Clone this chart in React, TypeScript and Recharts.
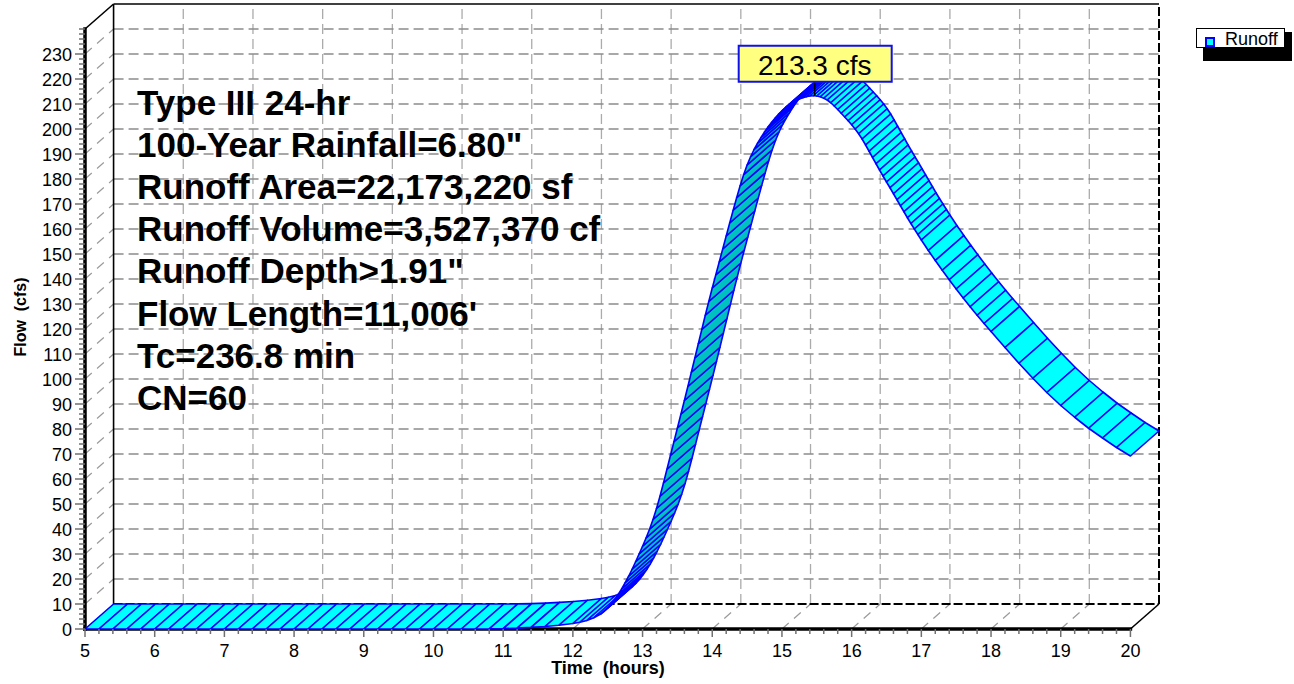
import React from 'react';
import { ScatterChart, Scatter, XAxis, YAxis } from 'recharts';

const FONT = '"Liberation Sans", Arial, Helvetica, sans-serif';

// ---------- data ----------
const HOURS = [
  5.0, 5.2, 5.4, 5.6, 5.8, 6.0, 6.2, 6.4, 6.6, 6.8,
  7.0, 7.2, 7.4, 7.6, 7.8, 8.0, 8.2, 8.4, 8.6, 8.8,
  9.0, 9.2, 9.4, 9.6, 9.8, 10.0, 10.2, 10.4, 10.6, 10.8,
  11.0, 11.2, 11.4, 11.6, 11.8, 12.0, 12.1, 12.2, 12.3, 12.4,
  12.45, 12.5, 12.55, 12.6, 12.65, 12.7, 12.75, 12.8, 12.85, 12.9, 12.95,
  13.0, 13.05, 13.1, 13.15, 13.2, 13.25, 13.3, 13.35, 13.4, 13.45,
  13.5, 13.55, 13.6, 13.65, 13.7, 13.75, 13.8, 13.85, 13.9, 13.95,
  14.0, 14.05, 14.1, 14.15, 14.2, 14.25, 14.3, 14.35, 14.4, 14.45,
  14.5, 14.55, 14.6, 14.65, 14.7, 14.75, 14.8, 14.85, 14.9, 14.95,
  15.0, 15.05, 15.1, 15.15, 15.2, 15.25, 15.3, 15.35, 15.4, 15.45,
  15.5, 15.55, 15.6, 15.65, 15.7, 15.75, 15.8, 15.85, 15.9, 15.95,
  16.0, 16.05, 16.1, 16.15, 16.2, 16.25, 16.3, 16.35, 16.4, 16.45,
  16.5, 16.55, 16.6, 16.65, 16.7, 16.75, 16.8, 16.85, 16.9, 16.95,
  17.0, 17.1, 17.2, 17.3, 17.4, 17.5, 17.6, 17.7, 17.8, 17.9, 18.0,
  18.2, 18.4, 18.6, 18.8, 19.0, 19.2, 19.4, 19.6, 19.8, 20.0,
];

const RUNOFF_CFS = [
  0, 0, 0, 0, 0, 0, 0, 0, 0, 0,
  0, 0, 0, 0, 0, 0, 0, 0, 0, 0,
  0, 0, 0, 0, 0, 0, 0, 0, 0, 0.05,
  0.15, 0.35, 0.65, 1.0, 1.5, 2.2, 2.7, 3.4, 4.5, 6.0,
  7.1, 8.4, 10.0, 11.8, 13.8, 16.0, 18.5, 21.1, 23.9, 26.9, 30.0,
  33.1, 36.4, 39.9, 43.8, 48.2, 53.1, 58.4, 63.9, 69.4, 74.9,
  80.4, 85.9, 91.4, 97.0, 102.7, 108.4, 114.1, 119.8, 125.5, 131.0,
  136.4, 141.6, 146.8, 152.0, 157.2, 162.4, 167.5, 172.5, 177.3, 181.7,
  185.6, 188.9, 191.8, 194.3, 196.6, 198.8, 200.8, 202.6, 204.3, 205.9,
  207.3, 208.6, 209.7, 210.6, 211.4, 212.0, 212.5, 212.9, 213.2, 213.3,
  213.2, 212.9, 212.3, 211.6, 210.5, 209.2, 207.8, 206.3, 204.8, 203.3,
  201.7, 200.0, 198.1, 196.0, 193.6, 191.1, 188.6, 186.1, 183.6, 181.2,
  178.8, 176.5, 174.1, 171.7, 169.3, 166.9, 164.5, 162.2, 160.0, 157.8,
  155.6, 151.4, 147.4, 143.5, 139.7, 136.0, 132.4, 128.9, 125.5, 122.2, 119.0,
  112.6, 106.3, 100.3, 94.6, 89.4, 84.7, 80.3, 76.4, 72.6, 69.2,
];

const X_LABELS = [5, 6, 7, 8, 9, 10, 11, 12, 13, 14, 15, 16, 17, 18, 19, 20];
const Y_LABELS = [0, 10, 20, 30, 40, 50, 60, 70, 80, 90, 100, 110, 120, 130, 140, 150, 160, 170, 180, 190, 200, 210, 220, 230];

const PEAK_T = 15.47;
const PEAK_Q = 213.3;
const SERIES_NAME = 'Runoff';

const INFO_LINES = [
  'Type III 24-hr',
  '100-Year Rainfall=6.80"',
  'Runoff Area=22,173,220 sf',
  'Runoff Volume=3,527,370 cf',
  'Runoff Depth>1.91"',
  "Flow Length=11,006'",
  'Tc=236.8 min',
  'CN=60',
];

// ---------- frame geometry in data units ----------
const X_MIN = 5;
const X_MAX = 20;
const Y_MIN = 0;
const Y_MAX = 240;
const DEPTH_T = 0.41; // 3D depth expressed in hours
const DEPTH_Q = 10; // 3D depth expressed in cfs

const X_TICKS: number[] = [];
for (let i = 0; i <= 75; i++) X_TICKS.push(Math.round((X_MIN + i * 0.2) * 10) / 10);
const Y_TICKS: number[] = [];
for (let v = Y_MIN; v <= Y_MAX; v += 2) Y_TICKS.push(v);

const seg = (x1: number, y1: number, x2: number, y2: number) => [
  { x: x1, y: y1 },
  { x: x2, y: y2 },
];

const BX0 = X_MIN + DEPTH_T;
const BX1 = X_MAX + DEPTH_T;
const BY0 = Y_MIN + DEPTH_Q;
const BY1 = Y_MAX + DEPTH_Q;

const GRID_H = Y_LABELS.filter((v) => v > 0).flatMap((v) => seg(BX0, v + DEPTH_Q, BX1, v + DEPTH_Q));
const GRID_V = X_LABELS.filter((t) => t > X_MIN && t < X_MAX).flatMap((t) => seg(t + DEPTH_T, BY0, t + DEPTH_T, BY1));
const WALL = Y_LABELS.filter((v) => v > 0).flatMap((v) => seg(X_MIN, v, BX0, v + DEPTH_Q));
const FLOOR = X_LABELS.filter((t) => t > X_MIN && t < X_MAX).flatMap((t) => seg(t, Y_MIN, t + DEPTH_T, BY0));
const FRAME = [
  ...seg(X_MIN, Y_MAX, BX0, BY1),
  ...seg(BX0, BY0, BX0, BY1),
  ...seg(BX0, BY1, BX1, BY1),
  ...seg(X_MAX, Y_MIN, BX1, BY0),
];
const FRAME_DASH = [...seg(BX0, BY0, BX1, BY0), ...seg(BX1, BY0, BX1, BY1)];
const AXES = [...seg(X_MIN, Y_MIN, X_MIN, Y_MAX), ...seg(X_MIN, Y_MIN, X_MAX, Y_MIN)];

const FRONT = HOURS.map((t, i) => ({ x: t, y: RUNOFF_CFS[i] }));
const BACK = HOURS.map((t, i) => ({ x: t + DEPTH_T, y: RUNOFF_CFS[i] + DEPTH_Q }));
const RIBBON = [...FRONT, ...BACK];
const PEAK_DATA = [{ x: PEAK_T, y: PEAK_Q }];

// ---------- renderers ----------
const CYAN = '#00ffff';
const DARK = '#00c0c0';
const BLUE = '#0000ff';

function Segs(props: any) {
  const pts = props.points || [];
  const cfg = props.cfg || {};
  const out: any[] = [];
  for (let i = 0; i + 1 < pts.length; i += 2) {
    const a = pts[i];
    const b = pts[i + 1];
    out.push(
      <line
        key={i}
        x1={a.x}
        y1={a.y}
        x2={b.x}
        y2={b.y}
        stroke={cfg.stroke}
        strokeWidth={cfg.width}
        strokeDasharray={cfg.dash}
        strokeLinecap={cfg.cap || 'butt'}
      />
    );
  }
  return <g>{out}</g>;
}

function Ribbon(props: any) {
  const pts = props.points || [];
  const n = Math.floor(pts.length / 2);
  const front = pts.slice(0, n);
  const back = pts.slice(n);
  const polys: any[] = [];
  for (let i = 0; i < n - 1; i++) {
    const a = front[i];
    const b = front[i + 1];
    const c = back[i + 1];
    const d = back[i];
    const sx = b.x - a.x;
    const sy = b.y - a.y;
    const dx = d.x - a.x;
    const dy = d.y - a.y;
    const cross = sx * dy - sy * dx;
    polys.push(
      <polygon
        key={i}
        points={`${a.x},${a.y} ${b.x},${b.y} ${c.x},${c.y} ${d.x},${d.y}`}
        fill={cross > 0 ? DARK : CYAN}
        stroke={BLUE}
        strokeWidth={1.6}
        strokeLinejoin="round"
      />
    );
  }
  return <g>{polys}</g>;
}

function PeakTag(props: any) {
  const { cx, cy } = props;
  if (cx == null || cy == null) return <g />;
  return (
    <g>
      <line x1={cx} y1={cy} x2={cx} y2={cy - 14} stroke="#000" strokeWidth={1.5} />
      <rect x={cx - 76} y={cy - 50} width={153} height={36} fill="#ffff80" stroke="#1010ee" strokeWidth={2} />
      <text x={cx} y={cy - 21} textAnchor="middle" fontSize={28} fontFamily={FONT} fill="#000">
        {`${PEAK_Q.toFixed(1)} cfs`}
      </text>
    </g>
  );
}

const Empty = () => <g />;

function XTick(props: any) {
  const { x, y, payload } = props;
  const v = payload.value;
  const major = Math.abs(v - Math.round(v)) < 1e-6;
  return (
    <g>
      <line x1={x} y1={y} x2={x} y2={y + (major ? 8 : 5)} stroke="#707070" strokeWidth={1.5} />
      {major && (
        <text x={x} y={y + 27.5} textAnchor="middle" fontSize={18} fontFamily={FONT} fill="#000">
          {Math.round(v)}
        </text>
      )}
    </g>
  );
}

function YTick(props: any) {
  const { x, y, payload } = props;
  const v = payload.value;
  const major = v % 10 === 0 && v <= 230;
  return (
    <g>
      <line x1={x - (major ? 10 : 6)} y1={y} x2={x} y2={y} stroke="#707070" strokeWidth={1.5} />
      {major && (
        <text x={x - 13} y={y + 7} textAnchor="end" fontSize={18} fontFamily={FONT} fill="#000">
          {v}
        </text>
      )}
    </g>
  );
}

function LegendBox() {
  return (
    <div style={{ position: 'absolute', left: 1196, top: 28, width: 97, height: 34, fontFamily: FONT }}>
      <div style={{ position: 'absolute', left: 7, top: 4, width: 89, height: 29, background: '#000' }} />
      <div
        style={{
          position: 'absolute',
          left: 0,
          top: 0,
          width: 87,
          height: 18,
          border: '1px solid #000',
          background: '#fff',
        }}
      >
        <div
          style={{
            position: 'absolute',
            left: 8,
            top: 8,
            width: 10,
            height: 10,
            boxSizing: 'border-box',
            border: `2px solid ${BLUE}`,
            background: CYAN,
          }}
        />
        <div
          style={{
            position: 'absolute',
            left: 28,
            top: 0,
            fontSize: 18,
            lineHeight: '20px',
            color: '#000',
            whiteSpace: 'nowrap',
          }}
        >
          {SERIES_NAME}
        </div>
      </div>
    </div>
  );
}

export default function App() {
  const W = 1294;
  const H = 684;
  return (
    <div style={{ position: 'absolute', left: 0, top: 0, width: W, height: H, background: '#fff' }}>
      <ScatterChart width={W} height={H} margin={{ top: 4, right: 135, bottom: 0, left: 0 }}>
        <XAxis
          type="number"
          dataKey="x"
          domain={[X_MIN, X_MAX + DEPTH_T]}
          ticks={X_TICKS}
          interval={0}
          tickSize={0}
          tickMargin={0}
          tickLine={false}
          axisLine={false}
          tick={<XTick />}
          height={55}
        />
        <YAxis
          type="number"
          dataKey="y"
          domain={[Y_MIN, Y_MAX + DEPTH_Q]}
          ticks={Y_TICKS}
          interval={0}
          tickSize={0}
          tickMargin={0}
          tickLine={false}
          axisLine={false}
          tick={<YTick />}
          width={85}
        />
        <Scatter name="gridV" legendType="none" data={GRID_V} shape={Empty} isAnimationActive={false}
          line={<Segs cfg={{ stroke: '#ababab', width: 1.3, dash: '10 5' }} />} />
        <Scatter name="gridH" legendType="none" data={GRID_H} shape={Empty} isAnimationActive={false}
          line={<Segs cfg={{ stroke: '#8c8c8c', width: 1.3, dash: '10 5' }} />} />
        <Scatter name="wall" legendType="none" data={WALL} shape={Empty} isAnimationActive={false}
          line={<Segs cfg={{ stroke: '#9a9a9a', width: 1.2, dash: '9 7' }} />} />
        <Scatter name="floor" legendType="none" data={FLOOR} shape={Empty} isAnimationActive={false}
          line={<Segs cfg={{ stroke: '#9a9a9a', width: 1.2, dash: '9 7' }} />} />
        <Scatter name="frameDash" legendType="none" data={FRAME_DASH} shape={Empty} isAnimationActive={false}
          line={<Segs cfg={{ stroke: '#000', width: 2, dash: '9 3' }} />} />
        <Scatter name="frame" legendType="none" data={FRAME} shape={Empty} isAnimationActive={false}
          line={<Segs cfg={{ stroke: '#000', width: 1.6 }} />} />
        <Scatter name="axes" legendType="none" data={AXES} shape={Empty} isAnimationActive={false}
          line={<Segs cfg={{ stroke: '#000', width: 3.5, cap: 'square' }} />} />
        <Scatter name={SERIES_NAME} fill={CYAN} data={RIBBON} shape={Empty} isAnimationActive={false}
          line={<Ribbon />} />
        <Scatter name="peak" legendType="none" data={PEAK_DATA} shape={PeakTag} isAnimationActive={false} />
      </ScatterChart>
      <LegendBox />
      <svg
        width={W}
        height={H}
        style={{ position: 'absolute', left: 0, top: 0, pointerEvents: 'none' }}
      >
        {INFO_LINES.map((s, i) => (
          <text key={i} x={137} y={114.5 + i * 42.2} fontSize={35} fontWeight="bold" fontFamily={FONT} fill="#000">
            {s}
          </text>
        ))}
        <text x={608} y={674} textAnchor="middle" fontSize={18} fontWeight="bold" fontFamily={FONT} fill="#000"
          style={{ whiteSpace: 'pre' }}>
          {'Time  (hours)'}
        </text>
        <text x={26} y={317} textAnchor="middle" fontSize={16} fontWeight="bold" fontFamily={FONT} fill="#000"
          transform="rotate(-90 26 317)" style={{ whiteSpace: 'pre' }}>
          {'Flow  (cfs)'}
        </text>
      </svg>
    </div>
  );
}
